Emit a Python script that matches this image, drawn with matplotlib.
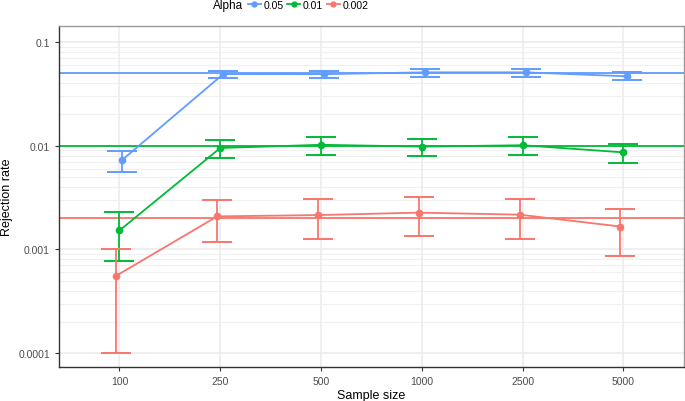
import matplotlib
matplotlib.use('Agg')
import matplotlib.pyplot as plt
from matplotlib.lines import Line2D
import numpy as np

plt.rcParams['font.family'] = ['Liberation Sans', 'DejaVu Sans']

sample_sizes = ['100', '250', '500', '1000', '2500', '5000']
alpha_labels = ['0.05', '0.01', '0.002']
alpha_levels = [0.05, 0.01, 0.002]
colors = ['#619CFF', '#00BA38', '#F8766D']

# rejection rate and 95% interval per alpha level
rate = [
    [0.00733, 0.0491, 0.0490, 0.0510, 0.0510, 0.0467],
    [0.00152, 0.00950, 0.0102, 0.0098, 0.0101, 0.00862],
    [0.000558, 0.00208, 0.00214, 0.00226, 0.00216, 0.00166],
]
upper = [
    [0.00895, 0.0528, 0.0530, 0.0549, 0.0550, 0.0510],
    [0.00229, 0.01143, 0.0121, 0.0117, 0.0120, 0.0104],
    [0.00101, 0.00297, 0.00303, 0.00319, 0.00306, 0.00247],
]
lower = [
    [0.00561, 0.0447, 0.0450, 0.0460, 0.0460, 0.0430],
    [0.000766, 0.00766, 0.0082, 0.0079, 0.0081, 0.00675],
    [0.0001, 0.00119, 0.00125, 0.00134, 0.00127, 0.000862],
]

fig = plt.figure(figsize=(6.85, 4.02), dpi=100)
ax = fig.add_axes([0.0861, 0.0846, 0.9124, 0.8482])

ax.set_yscale('log')
ax.set_ylim(7.33e-5, 0.1427)
ax.set_xlim(-0.6, len(sample_sizes) - 0.4)

# grid like ggplot
for d in [1e-4, 1e-3, 1e-2, 1e-1]:
    ax.axhline(d, color='#EBEBEB', lw=1.1, zorder=0)
    for m in range(2, 10):
        if m * d < 0.1427:
            ax.axhline(m * d, color='#F0F0F0', lw=0.8, zorder=0)
x = np.arange(len(sample_sizes))
for xi in x:
    ax.axvline(xi, color='#EBEBEB', lw=1.1, zorder=0)

dodge = [0.03, 0.0, -0.03]
for i in range(3):
    xs = x + dodge[i]
    c = colors[i]
    ax.axhline(alpha_levels[i], color=c, lw=1.3, zorder=1)
    r = np.array(rate[i])
    yerr = [r - np.array(lower[i]), np.array(upper[i]) - r]
    ax.errorbar(xs, r, yerr=yerr, fmt='none', ecolor=c, elinewidth=1.3,
                capsize=10.8, capthick=1.4, zorder=2)
    ax.plot(xs, r, '-o', color=c, lw=1.3, ms=4.5, zorder=3)

ax.set_xticks(x)
ax.set_xticklabels(sample_sizes)
ax.set_yticks([1e-4, 1e-3, 1e-2, 1e-1])
ax.set_yticklabels(['0.0001', '0.001', '0.01', '0.1'])
ax.yaxis.set_minor_locator(matplotlib.ticker.NullLocator())
ax.tick_params(axis='both', labelsize=7.5, labelcolor='#4D4D4D', color='#333333',
               length=3, width=0.8)
ax.set_xlabel('Sample size', fontsize=9, labelpad=2)
ax.set_ylabel('Rejection rate', fontsize=9, labelpad=4)

for s in ['top', 'right']:
    ax.spines[s].set_color('#999999')
    ax.spines[s].set_linewidth(1.0)
for s in ['left', 'bottom']:
    ax.spines[s].set_color('#333333')
    ax.spines[s].set_linewidth(1.0)

# legend on top
handles = [Line2D([], [], color=c, marker='o', lw=1.3, ms=3.5) for c in colors]
fig.text(0.311, 0.986, 'Alpha', fontsize=8.5, ha='left', va='center')
fig.legend(handles, alpha_labels, loc='center left', bbox_to_anchor=(0.362, 0.986),
           ncol=3, frameon=False, fontsize=7.5, handlelength=1.25, handletextpad=0.25,
           columnspacing=0.35, borderaxespad=0, borderpad=0)

fig.savefig('out.png', dpi=100)
plt.close(fig)
